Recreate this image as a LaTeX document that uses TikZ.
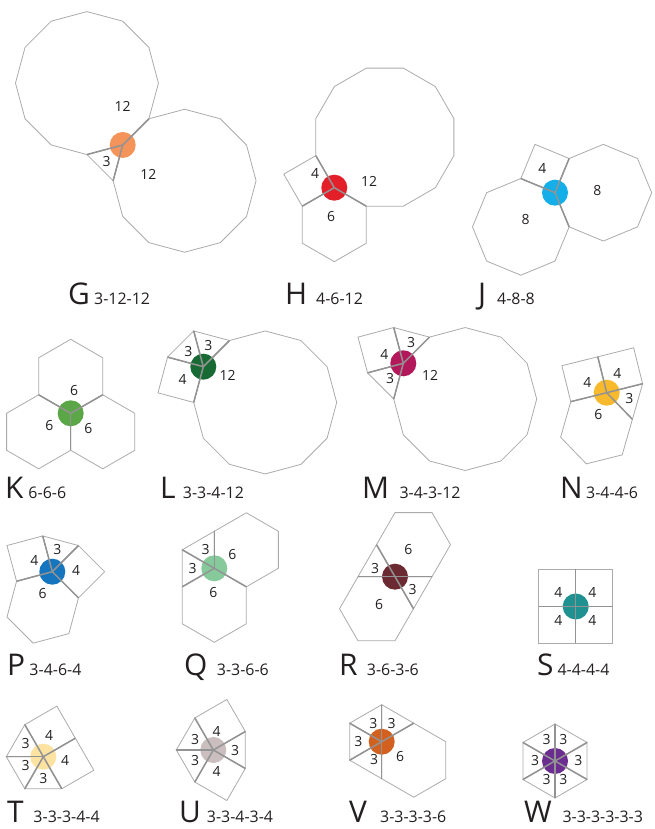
\documentclass[tikz,border=0pt]{standalone}
\usepackage{fontspec}
\setmainfont{Open Sans}

\definecolor{tilegray}{HTML}{ABABAB}
\definecolor{spokegray}{HTML}{939393}
\definecolor{inkgray}{HTML}{231F20}
\definecolor{dotG}{HTML}{F4935A}
\definecolor{dotH}{HTML}{E3202A}
\definecolor{dotJ}{HTML}{14AEE8}
\definecolor{dotK}{HTML}{5BA646}
\definecolor{dotL}{HTML}{186A34}
\definecolor{dotM}{HTML}{B3195A}
\definecolor{dotN}{HTML}{F8BA2C}
\definecolor{dotP}{HTML}{1575BF}
\definecolor{dotQ}{HTML}{86CA9B}
\definecolor{dotR}{HTML}{6B2A31}
\definecolor{dotS}{HTML}{1F9191}
\definecolor{dotT}{HTML}{FDE3A2}
\definecolor{dotU}{HTML}{CABEBE}
\definecolor{dotV}{HTML}{D2601E}
\definecolor{dotW}{HTML}{6B2D8F}

\tikzset{
  tile/.style={draw=tilegray,line width=0.8bp},
  spoke/.style={draw=spokegray,line width=1.5bp},
  bigletter/.style={anchor=base west,inner sep=0pt,font=\fontsize{30}{32}\selectfont},
  config/.style={anchor=base west,inner sep=0pt,font=\fontsize{16}{18}\selectfont},
}

% vertex figure: name, position, first edge angle, polygons in turn, dot colour
\newcommand{\vfig}[5]{
  \coordinate (#1) at (#2);
  \xdef\ang{#3}
  \foreach \n in {#4} {
    \draw[tile] (#1) \foreach \k in {1,...,\n} { -- ++({\ang+(\k-1)*360/\n}:37bp) } -- cycle;
    \pgfmathsetmacro\nxt{\ang+180-360/\n}
    \xdef\ang{\nxt}
  }
  \fill[#5] (#1) circle (13bp);
  \xdef\ang{#3}
  \foreach \n in {#4} {
    \draw[spoke] (#1) -- ++(\ang:37bp);
    \pgfmathsetmacro\nxt{\ang+180-360/\n}
    \xdef\ang{\nxt}
  }
}

\begin{document}
\begin{tikzpicture}[x=1bp,y=1bp,font=\fontsize{14}{16}\selectfont,text=inkgray]
  \useasboundingbox (0,0) rectangle (655,829);

  % row 1
  \vfig{G}{122.7,684}{195}{3,12,12}{dotG}
  \node (G1) at (122.7,723) {12};
  \node (G2) at (106.7,667.3) {3};
  \node (G3) at (148.3,655) {12};
  \node[bigletter] (Gl) at (68,524) {G};
  \node[config] (Gc) at (94,524) {3-12-12};

  \vfig{H}{334.3,641.3}{120}{4,6,12}{dotH}
  \node (H1) at (315,655.7) {4};
  \node (H2) at (369,647.3) {12};
  \node (H3) at (331,612.3) {6};
  \node[bigletter] (Hl) at (285,524) {H};
  \node[config] (Hc) at (316,524) {4-6-12};

  \vfig{J}{555,636.3}{67.5}{4,8,8}{dotJ}
  \node (J1) at (542.3,660.7) {4};
  \node (J2) at (597.3,638) {8};
  \node (J3) at (525.7,609) {8};
  \node[bigletter] (Jl) at (478,524) {J};
  \node[config] (Jc) at (497,524) {4-8-8};

  % row 2
  \vfig{K}{70.7,415.7}{30}{6,6,6}{dotK}
  \node (K1) at (74,438) {6};
  \node (K2) at (49.3,403) {6};
  \node (K3) at (88.3,400.7) {6};
  \node[bigletter] (Kl) at (5,330) {K};
  \node[config] (Kc) at (28.3,330) {6-6-6};

  \vfig{L}{203.3,462.3}{45}{3,3,4,12}{dotL}
  \node (L1) at (188.3,477.3) {3};
  \node (L2) at (208.3,483) {3};
  \node (L3) at (182.7,449.7) {4};
  \node (L4) at (227.7,454) {12};
  \node[bigletter] (Ll) at (160,330) {L};
  \node[config] (Lc) at (182.7,330) {3-3-4-12};

  \vfig{M}{403.3,465.7}{45}{3,4,3,12}{dotM}
  \node (M1) at (411,486.3) {3};
  \node (M2) at (384.3,474.7) {4};
  \node (M3) at (390,450.7) {3};
  \node (M4) at (430,454) {12};
  \node[bigletter] (Ml) at (362,330) {M};
  \node[config] (Mc) at (399.3,330) {3-4-3-12};

  \vfig{N}{606.7,436.3}{14}{4,4,6,3}{dotN}
  \node (N1) at (587.3,446.3) {4};
  \node (N2) at (617.3,455.7) {4};
  \node (N3) at (629.3,430.7) {3};
  \node (N4) at (598.3,414.7) {6};
  \node[bigletter] (Nl) at (560,330) {N};
  \node[config] (Nc) at (586,330) {3-4-4-6};

  % row 3
  \vfig{P}{52.3,257.3}{45}{3,4,6,4}{dotP}
  \node (P1) at (34.3,269) {4};
  \node (P2) at (57.3,279.7) {3};
  \node (P3) at (76,259) {4};
  \node (P4) at (42.7,235.7) {6};
  \node[bigletter] (Pl) at (7,153) {P};
  \node[config] (Pc) at (29.3,153) {3-4-6-4};

  \vfig{Q}{214.3,260.7}{90}{3,3,6,6}{dotQ}
  \node (Q1) at (205.7,279) {3};
  \node (Q2) at (192.7,260) {3};
  \node (Q3) at (232.3,274) {6};
  \node (Q4) at (213.3,236.7) {6};
  \node[bigletter] (Ql) at (184,153) {Q};
  \node[config] (Qc) at (216.7,153) {3-3-6-6};

  \vfig{R}{395,252.3}{0}{6,3,6,3}{dotR}
  \node (R1) at (375,260.7) {3};
  \node (R2) at (408.3,279) {6};
  \node (R3) at (412.7,239) {3};
  \node (R4) at (379,224) {6};
  \node[bigletter] (Rl) at (339,153) {R};
  \node[config] (Rc) at (366.7,153) {3-6-3-6};

  \vfig{S}{575.7,222.5}{0}{4,4,4,4}{dotS}
  \node (S1) at (558.3,236.7) {4};
  \node (S2) at (592.3,236.7) {4};
  \node (S3) at (558.3,209) {4};
  \node (S4) at (592.3,209) {4};
  \node[bigletter] (Sl) at (537,153) {S};
  \node[config] (Sc) at (557.3,153) {4-4-4-4};

  % row 4
  \vfig{T}{43.3,72.3}{30}{4,3,3,3,4}{dotT}
  \node (T1) at (49,94) {4};
  \node (T2) at (25.7,85) {3};
  \node (T3) at (25.7,63) {3};
  \node (T4) at (43.3,50.7) {3};
  \node (T5) at (65,69) {4};
  \node[bigletter] (Tl) at (7,6) {T};
  \node[config] (Tc) at (33.3,6) {3-3-3-4-4};

  \vfig{U}{213.3,79}{30}{4,3,3,4,3}{dotU}
  \node (U1) at (195,89) {3};
  \node (U2) at (216.7,97.3) {4};
  \node (U3) at (235,78) {3};
  \node (U4) at (216.7,57.3) {4};
  \node (U5) at (195,68) {3};
  \node[bigletter] (Ul) at (179,6) {U};
  \node[config] (Uc) at (206.7,6) {3-3-4-3-4};

  \vfig{V}{381.7,87.3}{30}{3,3,3,3,6}{dotV}
  \node (V1) at (373.3,105.7) {3};
  \node (V2) at (391.7,105.7) {3};
  \node (V3) at (358.3,87.3) {3};
  \node (V4) at (374,69) {3};
  \node (V5) at (400,72.3) {6};
  \node[bigletter] (Vl) at (349,6) {V};
  \node[config] (Vc) at (380,6) {3-3-3-3-6};

  \vfig{W}{555,68}{30}{3,3,3,3,3,3}{dotW}
  \node (W1) at (546.7,89) {3};
  \node (W2) at (563.3,89) {3};
  \node (W3) at (535,68) {3};
  \node (W4) at (578.3,68) {3};
  \node (W5) at (546.7,49.7) {3};
  \node (W6) at (563.3,49.7) {3};
  \node[bigletter] (Wl) at (524,6) {W};
  \node[config] (Wc) at (562.3,6) {3-3-3-3-3-3};
\end{tikzpicture}
\end{document}
